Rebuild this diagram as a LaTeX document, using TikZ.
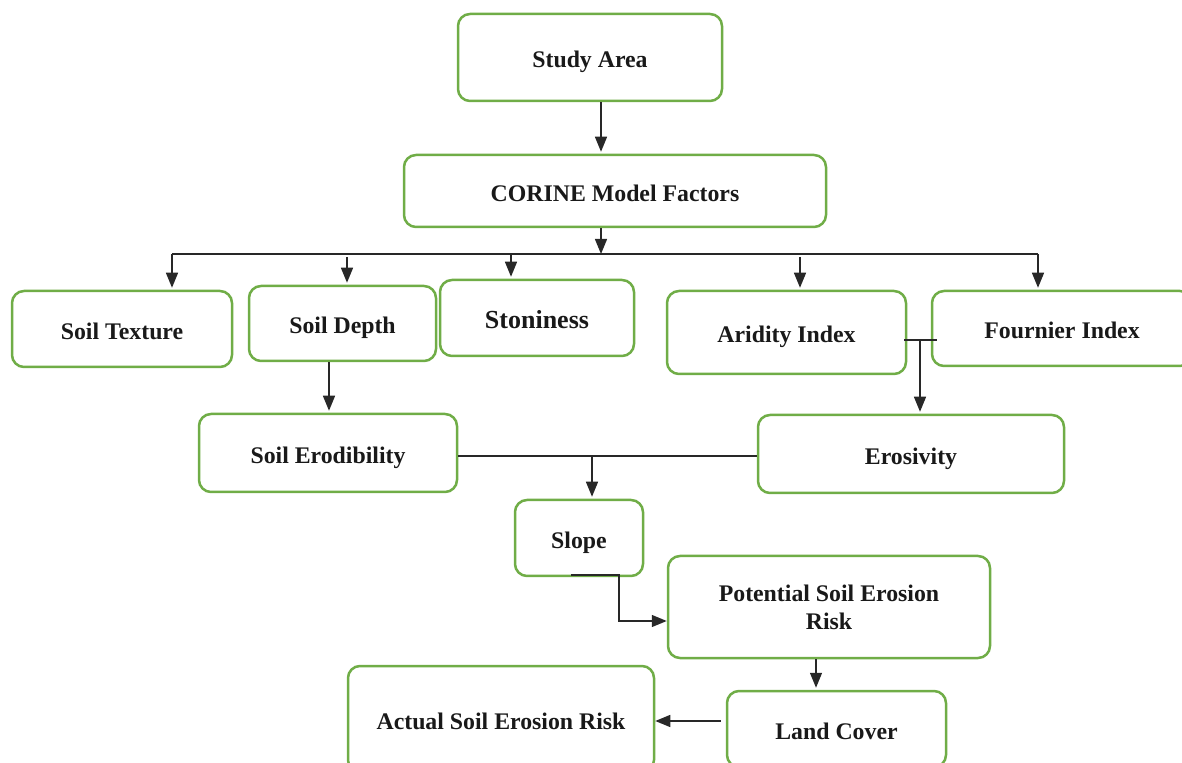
\documentclass[tikz,border=0pt]{standalone}
\usepackage{fontspec}
\setmainfont{Liberation Serif}
\usetikzlibrary{arrows.meta}
\definecolor{boxgreen}{RGB}{112,173,71}
\definecolor{linegray}{RGB}{40,40,40}
\tikzset{
  box/.style={draw=boxgreen, line width=1.25pt, rounded corners=6pt, fill=white,
    align=center, inner sep=0pt, text=black!90,
    font=\bfseries\fontsize{11.9}{14}\selectfont},
  oneline/.style={text height=10.4pt, text depth=0pt},
  arr/.style={-{Triangle[length=7.5pt,width=6pt]}, line width=0.7pt, draw=linegray, shorten >=1pt},
  ln/.style={line width=0.7pt, draw=linegray}
}
\newcommand\bx[7][oneline]{\node[box,#1, minimum width={(#5-#3)*0.5pt}, minimum height={(#6-#4)*0.5pt}] (#2) at ({(#3+#5)/2},{(#4+#6)/2}) {#7};}
\begin{document}
\begin{tikzpicture}[x=0.5pt,y=-0.5pt]
\useasboundingbox (0,0) rectangle (1182,763);
% boxes
\bx{study}{458}{14}{722}{101}{Study Area}
\bx{corine}{404}{155}{826}{227}{CORINE Model Factors}
\bx{texture}{12}{291}{232}{367}{Soil Texture}
\bx{depth}{249}{286}{436}{361}{Soil Depth}
\bx[font=\bfseries\fontsize{13}{15}\selectfont, text height=11pt, text depth=0pt]{stone}{440}{280}{634}{356}{Stoniness}
\bx{arid}{667}{291}{906}{374}{Aridity Index}
\bx{fournier}{932}{291}{1192}{366}{Fournier Index}
\bx{erod}{199}{414}{457}{492}{Soil Erodibility}
\bx{eros}{758}{415}{1064}{493}{Erosivity}
\bx{slope}{515}{500}{643}{576}{Slope}
\bx[yshift=0pt]{potential}{668}{556}{990}{658}{Potential Soil Erosion\\Risk}
\bx{actual}{348}{666}{654}{772}{Actual Soil Erosion Risk}
\bx{land}{727}{691}{946}{767}{Land Cover}
% helper coordinates
\coordinate (xa) at (601,0);
\coordinate (busL) at (172,254);
\coordinate (busR) at (1038,254);
\coordinate (bus) at (601,254);
\coordinate (drop) at (0,257);
\coordinate (xdepth) at (347,0);
\coordinate (xstone) at (511,0);
\coordinate (xarid) at (800,0);
\coordinate (xde) at (329,0);
\coordinate (jL) at (904,340);
\coordinate (jR) at (937,340);
\coordinate (jM) at (920,340);
\coordinate (ye) at (0,456);
\coordinate (xs) at (592,456);
\coordinate (s1) at (571,575);
\coordinate (s2) at (619,575);
\coordinate (s3) at (619,621);
\coordinate (xpl) at (816,0);
\coordinate (yla) at (0,721);
% connectors
\draw[arr] (xa |- study.south) -- (xa |- corine.north);
\draw[arr,shorten >=0pt] (xa |- corine.south) -- (bus);
\draw[ln] (busL) -- (busR);
\draw[arr] (busL) -- (busL |- texture.north);
\draw[arr] (xdepth |- drop) -- (xdepth |- depth.north);
\draw[arr] (xstone |- bus) -- (xstone |- stone.north);
\draw[arr] (xarid |- drop) -- (xarid |- arid.north);
\draw[arr] (busR) -- (busR |- fournier.north);
\draw[arr] (xde |- depth.south) -- (xde |- erod.north);
\draw[ln] (jL) -- (jR);
\draw[arr] (jM) -- (jM |- eros.north);
\draw[ln] (erod.east |- ye) -- (eros.west |- ye);
\draw[arr] (xs) -- (xs |- slope.north);
\draw[arr,shorten >=0pt] (s1) -- (s2) -- (s3) -- (potential.west |- s3);
\draw[arr] (xpl |- potential.south) -- (xpl |- land.north);
\draw[arr,shorten >=0pt] ([xshift=-2.5pt]land.west |- yla) -- (actual.east |- yla);
\end{tikzpicture}
\end{document}
